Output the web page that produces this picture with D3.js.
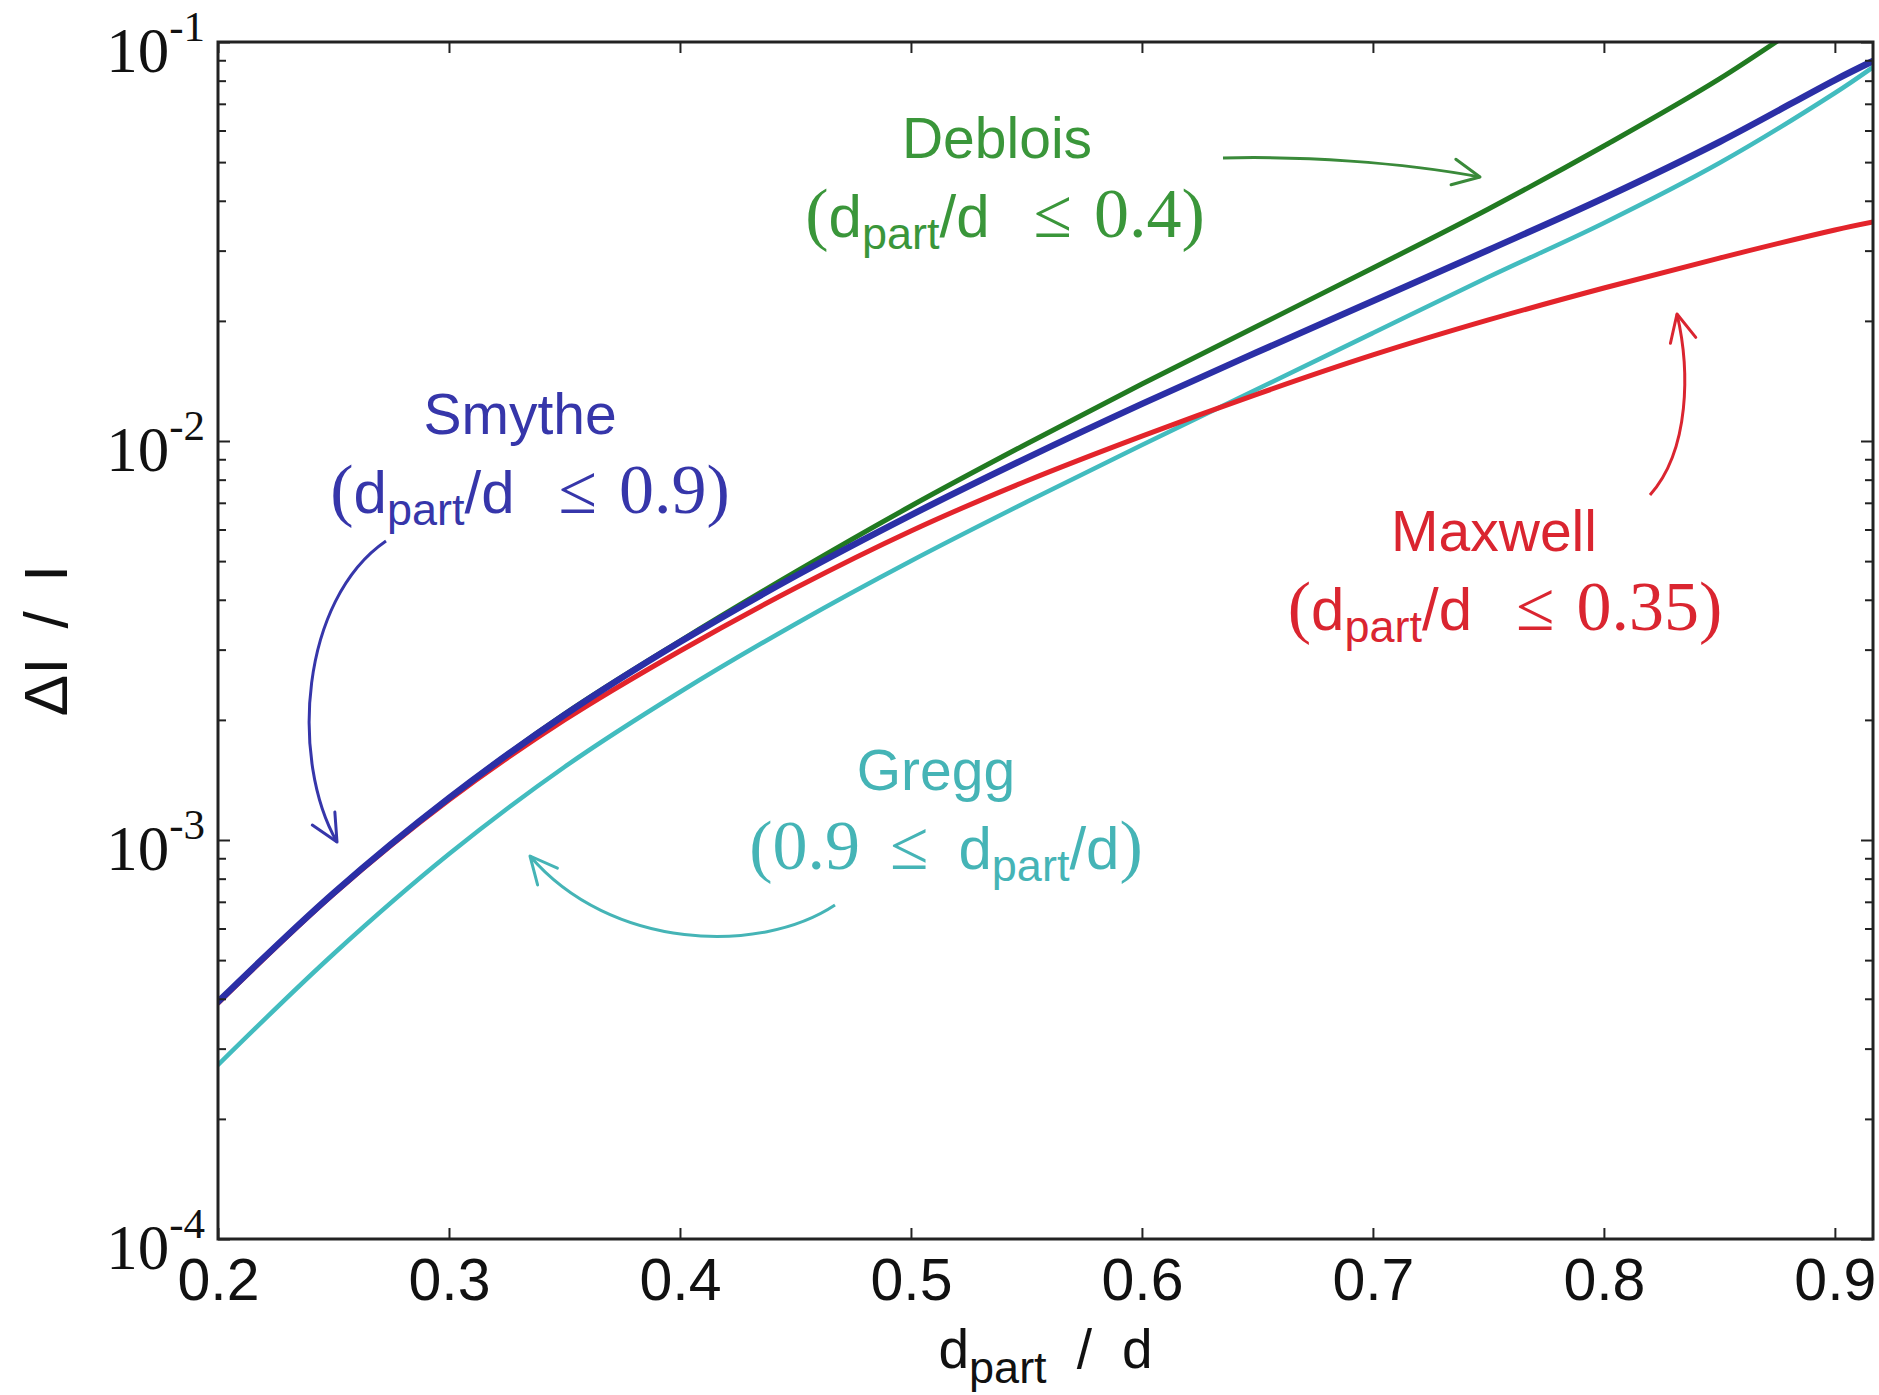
<!DOCTYPE html>
<html><head><meta charset="utf-8">
<script src="https://cdn.jsdelivr.net/npm/d3@7"></script>
<style>
html,body{margin:0;padding:0;background:#fff;}
svg{display:block;}
</style></head><body>
<svg id="chart" width="1879" height="1395"></svg>
<script>
// ---------- data ----------
const dRatio  = [0.2, 0.25, 0.3, 0.35, 0.4, 0.45, 0.5, 0.55, 0.6, 0.65, 0.7, 0.75, 0.8, 0.85, 0.9, 0.9165];
const smythe  = [3.93e-4, 7.36e-4, 1.274e-3, 2.057e-3, 3.134e-3, 4.589e-3, 6.52e-3, 9.06e-3, 1.239e-2, 1.671e-2, 2.243e-2, 3.011e-2, 4.064e-2, 5.615e-2, 8.03e-2, 8.96e-2];
const deblois = [3.93e-4, 7.36e-4, 1.274e-3, 2.069e-3, 3.153e-3, 4.696e-3, 6.87e-3, 9.83e-3, 1.389e-2, 1.942e-2, 2.714e-2, 3.815e-2, 5.487e-2, 8.08e-2, 1.259e-1, 1.463e-1];
const maxwell = [3.90e-4, 7.32e-4, 1.26e-3, 1.999e-3, 2.976e-3, 4.281e-3, 5.95e-3, 7.94e-3, 1.029e-2, 1.311e-2, 1.643e-2, 2.011e-2, 2.418e-2, 2.874e-2, 3.38e-2, 3.54e-2];
const gregg   = [2.73e-4, 5.18e-4, 9.22e-4, 1.524e-3, 2.349e-3, 3.479e-3, 5.003e-3, 7.03e-3, 9.77e-3, 1.35e-2, 1.865e-2, 2.576e-2, 3.519e-2, 4.973e-2, 7.45e-2, 8.65e-2];

const xTickValues = [0.2, 0.3, 0.4, 0.5, 0.6, 0.7, 0.8, 0.9];
const yTickValues = [1e-4, 1e-3, 1e-2, 1e-1];
const yTickExponents = ["-4", "-3", "-2", "-1"];
const noteNames  = ["Deblois", "Smythe", "Maxwell", "Gregg"];
const noteLimits = ["0.4", "0.9", "0.35", "0.9"];

// ---------- layout ----------
const W = 1879, H = 1395;
const plot = {l: 218, r: 1873, t: 42, b: 1239};
const SANS = "'Liberation Sans', Arial, sans-serif";
const SERIF = "'Liberation Serif', 'DejaVu Serif', serif";

const svg = d3.select("#chart");
svg.append("rect").attr("width", W).attr("height", H).attr("fill", "#fff");

const x = d3.scaleLinear().domain([0.2, 0.9165]).range([plot.l, plot.r]);
const y = d3.scaleLog().domain([1e-4, 1e-1]).range([plot.b, plot.t]);

const defs = svg.append("defs");
defs.append("clipPath").attr("id", "clip").append("rect")
  .attr("x", plot.l).attr("y", plot.t)
  .attr("width", plot.r - plot.l).attr("height", plot.b - plot.t);

// ---------- series ----------
const series = [
  {name: "Gregg",   values: gregg,   color: "#42bcbf", width: 4.5},
  {name: "Deblois", values: deblois, color: "#217a21", width: 5},
  {name: "Maxwell", values: maxwell, color: "#e3242b", width: 5},
  {name: "Smythe",  values: smythe,  color: "#2b2fa6", width: 6.5}
];
const line = d3.line().x((d, i) => x(dRatio[i])).y(d => y(d)).curve(d3.curveCatmullRom.alpha(0.5));
const gLines = svg.append("g").attr("clip-path", "url(#clip)");
series.forEach(s => {
  gLines.append("path").datum(s.values)
    .attr("d", line).attr("fill", "none")
    .attr("stroke", s.color).attr("stroke-width", s.width)
    .attr("stroke-linejoin", "round").attr("stroke-linecap", "round");
});

// ---------- axes ----------
const tickStyle = g => {
  g.select(".domain").remove();
  g.selectAll(".tick line").attr("stroke", "#222").attr("stroke-width", 2);
  g.attr("font-family", null).attr("font-size", null);
};
const yMinor = y.ticks().filter(v => !yTickValues.some(m => Math.abs(m - v) / v < 1e-6));

// bottom
const gx = svg.append("g").attr("transform", `translate(0,${plot.b})`)
  .call(d3.axisBottom(x).tickValues(xTickValues).tickSize(-11).tickFormat(d3.format(".1f")))
  .call(tickStyle);
gx.selectAll(".tick text").attr("y", 61).attr("dy", 0)
  .attr("font-family", SANS).attr("font-size", 59).attr("fill", "#111");
// top
svg.append("g").attr("transform", `translate(0,${plot.t})`)
  .call(d3.axisTop(x).tickValues(xTickValues).tickSize(-11).tickFormat(""))
  .call(tickStyle);
// left
svg.append("g").attr("transform", `translate(${plot.l},0)`)
  .call(d3.axisLeft(y).tickValues(yTickValues).tickSize(-12).tickFormat(""))
  .call(tickStyle);
svg.append("g").attr("transform", `translate(${plot.l},0)`)
  .call(d3.axisLeft(y).tickValues(yMinor).tickSize(-8).tickFormat(""))
  .call(tickStyle);
// right
svg.append("g").attr("transform", `translate(${plot.r},0)`)
  .call(d3.axisRight(y).tickValues(yTickValues).tickSize(-12).tickFormat(""))
  .call(tickStyle);
svg.append("g").attr("transform", `translate(${plot.r},0)`)
  .call(d3.axisRight(y).tickValues(yMinor).tickSize(-8).tickFormat(""))
  .call(tickStyle);

// y tick labels 10^k
yTickValues.forEach((v, i) => {
  const t = svg.append("text").attr("x", 205).attr("y", y(v) + 30)
    .attr("text-anchor", "end").attr("font-family", SERIF).attr("font-size", 63).attr("fill", "#111");
  t.append("tspan").text("10");
  t.append("tspan").attr("dy", -31).attr("font-size", 43).text(yTickExponents[i]);
});

// frame
svg.append("rect").attr("x", plot.l).attr("y", plot.t)
  .attr("width", plot.r - plot.l).attr("height", plot.b - plot.t)
  .attr("fill", "none").attr("stroke", "#222").attr("stroke-width", 3);

// axis titles
svg.append("text")
  .attr("transform", `translate(67,${(plot.t + plot.b) / 2}) rotate(-90)`)
  .attr("text-anchor", "middle").attr("font-family", SANS).attr("font-size", 62)
  .attr("fill", "#111").attr("word-spacing", 12).text("ΔI / I");

const xl = svg.append("text").attr("x", (plot.l + plot.r) / 2).attr("y", 1368)
  .attr("text-anchor", "middle").attr("font-family", SANS).attr("fill", "#111");
xl.append("tspan").attr("font-size", 55).text("d");
xl.append("tspan").attr("font-size", 45).attr("dy", 15).text("part");
xl.append("tspan").attr("font-size", 55).attr("dy", -15).attr("dx", 30).text("/");
xl.append("tspan").attr("font-size", 55).attr("dx", 30).text("d");

// ---------- annotations ----------
const noteColors = ["#3a963a", "#3636aa", "#da2530", "#45b4b6"];
const notePos = [
  {cx1: 997,  y1: 158, cx2: 1005, y2: 237},
  {cx1: 520,  y1: 434, cx2: 530,  y2: 513},
  {cx1: 1494, y1: 551, cx2: 1505, y2: 630},
  {cx1: 936,  y1: 790, cx2: 946,  y2: 869}
];
noteNames.forEach((name, i) => {
  const p = notePos[i], col = noteColors[i], lim = noteLimits[i];
  svg.append("text").attr("x", p.cx1).attr("y", p.y1).attr("text-anchor", "middle")
    .attr("font-family", SANS).attr("font-size", 57).attr("fill", col).text(name);
  const t = svg.append("text").attr("x", p.cx2).attr("y", p.y2).attr("text-anchor", "middle").attr("fill", col);
  const add = (txt, fam, size, dx, dy) => {
    const s = t.append("tspan").text(txt).attr("font-family", fam).attr("font-size", size);
    if (dx) s.attr("dx", dx);
    if (dy) s.attr("dy", dy);
    return s;
  };
  if (name !== "Gregg") {
    add("(", SERIF, 70);
    add("d", SANS, 60);
    add("part", SANS, 45, 0, 12);
    add("/d", SANS, 60, 0, -12);
    add("≤", SERIF, 70, 44);
    add(lim + ")", SERIF, 70, 22);
  } else {
    add("(" + lim, SERIF, 70);
    add("≤", SERIF, 70, 30);
    add("d", SANS, 60, 30);
    add("part", SANS, 45, 0, 12);
    add("/d", SANS, 60, 0, -12);
    add(")", SERIF, 70);
  }
});

// arrows
const arrows = [
  {col: "#3a8a3a", d: "M1223,158 C1300,156 1400,162 1480,177"},
  {col: "#3636aa", d: "M386,541 C300,600 290,760 337,842"},
  {col: "#da2530", d: "M1650,495 C1690,450 1690,370 1677,314"},
  {col: "#45b4b6", d: "M835,905 C760,955 610,950 530,856"}
];
arrows.forEach((a, i) => {
  defs.append("marker").attr("id", "ah" + i)
    .attr("markerUnits", "userSpaceOnUse").attr("orient", "auto")
    .attr("markerWidth", 44).attr("markerHeight", 44)
    .attr("refX", 32).attr("refY", 22).attr("viewBox", "0 0 44 44")
    .append("path").attr("d", "M5,9 L32,22 L5,35")
    .attr("fill", "none").attr("stroke", a.col).attr("stroke-width", 3)
    .attr("stroke-linecap", "round").attr("stroke-linejoin", "round");
  svg.append("path").attr("d", a.d).attr("fill", "none")
    .attr("stroke", a.col).attr("stroke-width", 3)
    .attr("marker-end", `url(#ah${i})`);
});
</script>
</body></html>
